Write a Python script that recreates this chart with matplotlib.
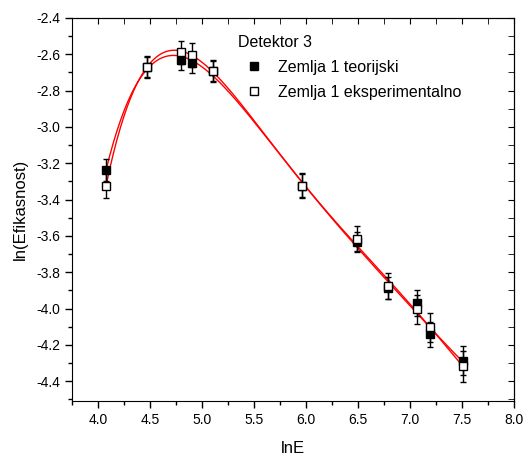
import numpy as np
import matplotlib.pyplot as plt
from matplotlib.ticker import MultipleLocator

plt.rcParams['font.family'] = ['Liberation Sans', 'DejaVu Sans']
plt.rcParams['axes.unicode_minus'] = False

# lnE values
lnE = [4.077, 4.474, 4.798, 4.907, 5.109, 5.962, 6.488, 6.790, 7.064, 7.189, 7.507]

# Zemlja 1 teorijski
teor = [-3.238, -2.670, -2.632, -2.649, -2.690, -3.323, -3.634, -3.888, -3.969, -4.142, -4.288]
teor_err = [0.06, 0.055, 0.055, 0.055, 0.055, 0.065, 0.055, 0.06, 0.07, 0.07, 0.08]

# Zemlja 1 eksperimentalno
eksp = [-3.323, -2.670, -2.590, -2.603, -2.691, -3.323, -3.615, -3.875, -4.004, -4.102, -4.317]
eksp_err = [0.07, 0.06, 0.065, 0.065, 0.06, 0.07, 0.07, 0.07, 0.08, 0.08, 0.085]

fig = plt.figure(figsize=(5.26, 4.59), dpi=100)
ax = fig.add_axes([0.137, 0.126, 0.840, 0.835])

# fit curves (polynomial fit through the points)
xf = np.linspace(min(lnE), max(lnE), 300)
for y in (teor, eksp):
    p = np.polyfit(lnE, y, 5)
    ax.plot(xf, np.polyval(p, xf), color='red', lw=1.0, zorder=1)

e1 = ax.errorbar(lnE, teor, yerr=teor_err, fmt='s', ms=5.6, mfc='black', mec='black',
                 ecolor='black', elinewidth=1, capsize=2.5, capthick=1, zorder=3)
e2 = ax.errorbar(lnE, eksp, yerr=eksp_err, fmt='s', ms=5.6, mfc='white', mec='black',
                 mew=1, ecolor='black', elinewidth=1, capsize=2.5, capthick=1, zorder=4)

ax.set_xlim(3.75, 8.0)
ax.set_ylim(-4.51, -2.4)
ax.xaxis.set_major_locator(MultipleLocator(0.5))
ax.xaxis.set_minor_locator(MultipleLocator(0.25))
ax.yaxis.set_major_locator(MultipleLocator(0.2))
ax.yaxis.set_minor_locator(MultipleLocator(0.1))
ax.tick_params(which='major', direction='out', length=5, width=1, labelsize=10)
ax.tick_params(which='minor', direction='out', length=3, width=1)

top = ax.secondary_xaxis('top')
top.xaxis.set_major_locator(MultipleLocator(0.5))
top.xaxis.set_minor_locator(MultipleLocator(0.25))
top.tick_params(which='both', direction='in', length=4, labeltop=False)
right = ax.secondary_yaxis('right')
right.yaxis.set_major_locator(MultipleLocator(0.2))
right.yaxis.set_minor_locator(MultipleLocator(0.1))
right.tick_params(which='both', direction='in', length=4, labelright=False)

ax.set_xlabel('lnE', fontsize=12, labelpad=10)
ax.set_ylabel('ln(Efikasnost)', fontsize=12, labelpad=6)

leg = ax.legend([e1[0], e2[0]], ['Zemlja 1 teorijski', 'Zemlja 1 eksperimentalno'],
                title='Detektor 3', loc='upper left', bbox_to_anchor=(0.344, 0.992),
                frameon=False, fontsize=11.5, title_fontsize=11.5, handletextpad=0.5,
                labelspacing=0.6, handlelength=2.0)
leg._legend_box.align = 'left'

fig.savefig('out.png', dpi=100)
